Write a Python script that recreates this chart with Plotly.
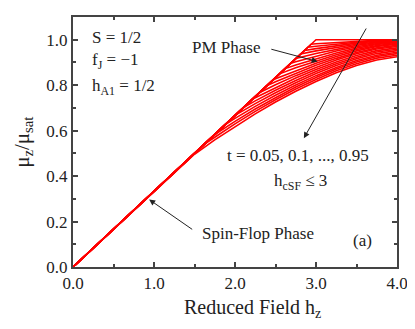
import plotly.graph_objects as go

# reduced temperatures of the curves
t_values = [0.05, 0.10, 0.15, 0.20, 0.25, 0.30, 0.35, 0.40, 0.45, 0.50,
            0.55, 0.60, 0.65, 0.70, 0.75, 0.80, 0.85, 0.90, 0.95]

# field grid shared by all curves
h_grid = [0.0, 1.0, 1.25, 1.5, 1.75, 2.0, 2.25, 2.5, 2.75, 3.0, 3.25, 3.5, 3.75, 4.0]

# spin-flop -> PM transition point of every curve
kink_h = [3.00, 2.94, 2.90, 2.86, 2.81, 2.75, 2.69, 2.62, 2.55, 2.47,
          2.39, 2.30, 2.21, 2.11, 2.00, 1.88, 1.75, 1.61, 1.45]
kink_m = [1.000, 0.980, 0.967, 0.953, 0.937, 0.917, 0.897, 0.873, 0.850, 0.823,
          0.797, 0.767, 0.737, 0.703, 0.667, 0.627, 0.583, 0.537, 0.483]

# mu_z / mu_sat on h_grid, one row per t
m_t05 = [0, .333, .417, .500, .583, .667, .750, .833, .917, 1.000, 1.000, 1.000, 1.000, 1.000]
m_t10 = [0, .333, .417, .500, .583, .667, .750, .833, .917, .982, .988, .993, .997, .9995]
m_t15 = [0, .333, .417, .500, .583, .667, .750, .833, .917, .971, .981, .989, .996, .999]
m_t20 = [0, .333, .417, .500, .583, .667, .750, .833, .917, .961, .974, .985, .993, .998]
m_t25 = [0, .333, .417, .500, .583, .667, .750, .833, .917, .951, .967, .980, .990, .996]
m_t30 = [0, .333, .417, .500, .583, .667, .750, .833, .917, .939, .958, .975, .987, .994]
m_t35 = [0, .333, .417, .500, .583, .667, .750, .833, .903, .928, .950, .969, .983, .991]
m_t40 = [0, .333, .417, .500, .583, .667, .750, .833, .889, .917, .942, .963, .979, .988]
m_t45 = [0, .333, .417, .500, .583, .667, .750, .833, .877, .907, .934, .957, .974, .984]
m_t50 = [0, .333, .417, .500, .583, .667, .750, .828, .864, .897, .926, .951, .970, .980]
m_t55 = [0, .333, .417, .500, .583, .667, .750, .815, .853, .888, .918, .944, .964, .975]
m_t60 = [0, .333, .417, .500, .583, .667, .750, .802, .842, .878, .911, .938, .959, .970]
m_t65 = [0, .333, .417, .500, .583, .667, .745, .790, .832, .869, .902, .931, .952, .964]
m_t70 = [0, .333, .417, .500, .583, .667, .731, .778, .821, .860, .894, .923, .946, .958]
m_t75 = [0, .333, .417, .500, .583, .667, .719, .767, .811, .851, .887, .916, .939, .952]
m_t80 = [0, .333, .417, .500, .583, .654, .707, .756, .801, .842, .878, .909, .932, .945]
m_t85 = [0, .333, .417, .500, .583, .641, .695, .745, .792, .834, .871, .902, .926, .939]
m_t90 = [0, .333, .417, .500, .571, .630, .685, .736, .783, .825, .863, .894, .919, .932]
m_t95 = [0, .333, .417, .496, .559, .618, .674, .726, .773, .816, .855, .887, .911, .925]

m_rows = [m_t05, m_t10, m_t15, m_t20, m_t25, m_t30, m_t35, m_t40, m_t45, m_t50,
          m_t55, m_t60, m_t65, m_t70, m_t75, m_t80, m_t85, m_t90, m_t95]

SERIF = "Liberation Serif"
AXIS_COLOR = "#444444"
TEXT_COLOR = "#222222"

fig = go.Figure()

for t, row, hk, mk in zip(t_values, m_rows, kink_h, kink_m):
    pts = sorted(set(zip(h_grid, row)) | {(hk, mk)})
    fig.add_trace(go.Scatter(
        x=[p[0] for p in pts],
        y=[p[1] for p in pts],
        mode="lines",
        line=dict(color="#ff0000", width=1.6),
        name=f"t = {t}",
        showlegend=False,
    ))

axis_common = dict(
    showline=True, linecolor=AXIS_COLOR, linewidth=2, mirror="ticks",
    ticks="inside", ticklen=5, tickwidth=1.5, tickcolor=AXIS_COLOR,
    showgrid=False, zeroline=False,
    tickfont=dict(family=SERIF, size=17, color=TEXT_COLOR),
)

fig.update_xaxes(
    range=[0, 4], tickvals=[0, 1, 2, 3, 4], ticktext=["0.0", "1.0", "2.0", "3.0", "4.0"],
    minor=dict(tickvals=[0.5, 1.5, 2.5, 3.5], ticks="inside", ticklen=3, tickcolor=AXIS_COLOR),
    **axis_common,
)
fig.update_yaxes(
    range=[0, 1.1], tickvals=[0, 0.2, 0.4, 0.6, 0.8, 1.0],
    ticktext=["0.0", "0.2", "0.4", "0.6", "0.8", "1.0"],
    minor=dict(tickvals=[0.1, 0.3, 0.5, 0.7, 0.9], ticks="inside", ticklen=3, tickcolor=AXIS_COLOR),
    **axis_common,
)

txt = dict(family=SERIF, size=17, color=TEXT_COLOR)

labels = [
    (0.21, 1.010, "S = 1/2", "left"),
    (0.21, 0.905, "f<sub>J</sub> = \u22121", "left"),
    (0.21, 0.790, "h<sub>A1</sub> = 1/2", "left"),
    (1.45, 0.968, "PM Phase", "left"),
    (2.78, 0.489, "t = 0.05, 0.1, ..., 0.95", "center"),
    (2.81, 0.375, "h<sub>cSF</sub> \u2264 3", "center"),
    (2.29, 0.148, "Spin-Flop Phase", "center"),
    (3.57, 0.118, "(a)", "center"),
]
for x, y, s, anchor in labels:
    fig.add_annotation(x=x, y=y, xref="x", yref="y", text=s, showarrow=False,
                       xanchor=anchor, yanchor="middle", font=txt)

arrows = [
    ((2.43, 0.960), (3.02, 0.904)),
    ((3.63, 1.056), (2.85, 0.567)),
    ((1.49, 0.161), (0.94, 0.297)),
]
for (tx, ty), (hx, hy) in arrows:
    fig.add_annotation(x=hx, y=hy, ax=tx, ay=ty, xref="x", yref="y", axref="x", ayref="y",
                       text="", showarrow=True, arrowhead=2, arrowsize=1.2,
                       arrowwidth=1, arrowcolor=TEXT_COLOR)

fig.add_annotation(x=0.555, y=-0.165, xref="paper", yref="paper", showarrow=False,
                   text="Reduced Field h<sub>z</sub>", font=dict(family=SERIF, size=20, color=TEXT_COLOR),
                   xanchor="center", yanchor="middle")
fig.add_annotation(x=-0.155, y=0.5, xref="paper", yref="paper", showarrow=False, textangle=-90,
                   text="\u03bc<sub>z</sub>/\u03bc<sub>sat</sub>", font=dict(family=SERIF, size=21, color=TEXT_COLOR),
                   xanchor="center", yanchor="middle")

# the page adds an 8 px body margin, so the figure is a little smaller than the window
fig.update_layout(
    width=407, height=321,
    margin=dict(l=65, r=15, t=7, b=62),
    plot_bgcolor="white", paper_bgcolor="white",
)

fig.write_html("out.html")
